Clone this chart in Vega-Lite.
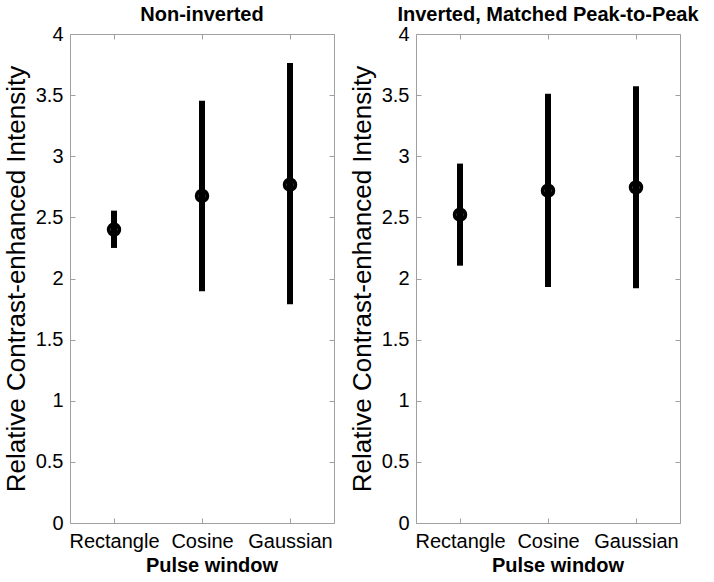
{
  "$schema": "https://vega.github.io/schema/vega-lite/v6.json",
  "padding": {"left": 2, "top": 4, "right": 0, "bottom": 0},
  "spacing": 13,
  "config": {
    "font": "Liberation Sans",
    "view": {"stroke": "#a0a0a0", "strokeWidth": 1},
    "axis": {"domain": false, "grid": false, "tickColor": "#a0a0a0", "tickSize": -5, "labelColor": "black", "labelFontSize": 20, "labelFont": "Liberation Sans", "titleColor": "black", "titleFont": "Liberation Sans"},
    "title": {"fontSize": 20, "fontWeight": "bold", "offset": -1, "color": "black", "font": "Liberation Sans"}
  },
  "data": {"values": [
    {"panel": "Non-inverted", "window": "Rectangle", "mean": 2.40, "lo": 2.25, "hi": 2.555},
    {"panel": "Non-inverted", "window": "Cosine", "mean": 2.675, "lo": 1.895, "hi": 3.455},
    {"panel": "Non-inverted", "window": "Gaussian", "mean": 2.767, "lo": 1.79, "hi": 3.763},
    {"panel": "Inverted", "window": "Rectangle", "mean": 2.522, "lo": 2.105, "hi": 2.94},
    {"panel": "Inverted", "window": "Cosine", "mean": 2.718, "lo": 1.93, "hi": 3.512},
    {"panel": "Inverted", "window": "Gaussian", "mean": 2.745, "lo": 1.92, "hi": 3.572}
  ]},
  "hconcat": [
    {
      "title": "Non-inverted",
      "width": 264, "height": 489,
      "transform": [{"filter": "datum.panel == 'Non-inverted'"}],
      "layer": [
        {"mark": {"type": "rule", "strokeWidth": 6, "color": "black"},
         "encoding": {
           "x": {"field": "window", "type": "nominal", "sort": ["Rectangle", "Cosine", "Gaussian"], "scale": {"type": "point", "padding": 0.5}, "axis": {"orient": "bottom", "title": "Pulse window", "titleFontSize": 20, "titleFontWeight": "bold", "labelAngle": 0, "labelPadding": 13, "labelDx": 4, "titleX": 141.5, "titlePadding": 4}},
           "y": {"field": "lo", "type": "quantitative", "scale": {"domain": [0, 4], "nice": false, "zero": false}, "axis": {"orient": "left", "values": [0, 0.5, 1, 1.5, 2, 2.5, 3, 3.5, 4], "format": "~g", "title": "Relative Contrast-enhanced Intensity", "titleFontSize": 26, "titleFontWeight": "normal", "labelPadding": 12, "titlePadding": 6}},
           "y2": {"field": "hi"}
         }},
        {"mark": {"type": "point", "shape": "circle", "filled": false, "stroke": "black", "strokeWidth": 4, "size": 110, "opacity": 1},
         "encoding": {
           "x": {"field": "window", "type": "nominal", "sort": ["Rectangle", "Cosine", "Gaussian"], "scale": {"type": "point", "padding": 0.5}, "axis": {"orient": "top", "labels": false, "title": null, "minExtent": 0, "maxExtent": 0}},
           "y": {"field": "mean", "type": "quantitative", "scale": {"domain": [0, 4], "nice": false, "zero": false}, "axis": {"orient": "right", "labels": false, "title": null, "minExtent": 0, "maxExtent": 0, "values": [0, 0.5, 1, 1.5, 2, 2.5, 3, 3.5, 4]}}
         }}
      ],
      "resolve": {"axis": {"x": "independent", "y": "independent"}}
    },
    {
      "title": "Inverted, Matched Peak-to-Peak",
      "width": 264, "height": 489,
      "transform": [{"filter": "datum.panel == 'Inverted'"}],
      "layer": [
        {"mark": {"type": "rule", "strokeWidth": 6, "color": "black"},
         "encoding": {
           "x": {"field": "window", "type": "nominal", "sort": ["Rectangle", "Cosine", "Gaussian"], "scale": {"type": "point", "padding": 0.5}, "axis": {"orient": "bottom", "title": "Pulse window", "titleFontSize": 20, "titleFontWeight": "bold", "labelAngle": 0, "labelPadding": 13, "labelDx": 4, "titleX": 141.5, "titlePadding": 4}},
           "y": {"field": "lo", "type": "quantitative", "scale": {"domain": [0, 4], "nice": false, "zero": false}, "axis": {"orient": "left", "values": [0, 0.5, 1, 1.5, 2, 2.5, 3, 3.5, 4], "format": "~g", "title": "Relative Contrast-enhanced Intensity", "titleFontSize": 26, "titleFontWeight": "normal", "labelPadding": 12, "titlePadding": 6}},
           "y2": {"field": "hi"}
         }},
        {"mark": {"type": "point", "shape": "circle", "filled": false, "stroke": "black", "strokeWidth": 4, "size": 110, "opacity": 1},
         "encoding": {
           "x": {"field": "window", "type": "nominal", "sort": ["Rectangle", "Cosine", "Gaussian"], "scale": {"type": "point", "padding": 0.5}, "axis": {"orient": "top", "labels": false, "title": null, "minExtent": 0, "maxExtent": 0}},
           "y": {"field": "mean", "type": "quantitative", "scale": {"domain": [0, 4], "nice": false, "zero": false}, "axis": {"orient": "right", "labels": false, "title": null, "minExtent": 0, "maxExtent": 0, "values": [0, 0.5, 1, 1.5, 2, 2.5, 3, 3.5, 4]}}
         }}
      ],
      "resolve": {"axis": {"x": "independent", "y": "independent"}}
    }
  ]
}
